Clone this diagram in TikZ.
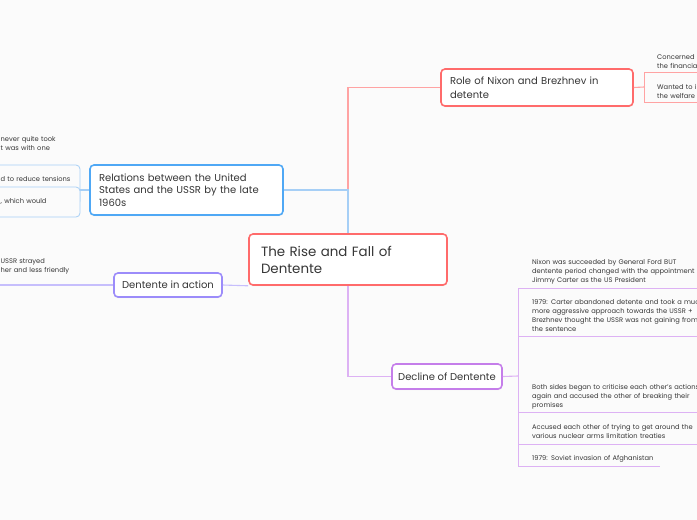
\documentclass[tikz,border=0pt]{standalone}
\usepackage{fontspec}
\setmainfont{Poppins}
\usetikzlibrary{shadows}
\begin{document}
\begin{tikzpicture}[x=1pt,y=-1pt,
  topic/.style={draw=#1,line width=1.6pt,rounded corners=4pt,fill=white,text=inkcol,
    inner ysep=0pt,drop shadow={opacity=0.12,shadow xshift=0pt,shadow yshift=-1.2pt}},
  link/.style={draw=#1,line width=1.1pt},
  leaf/.style={text=inkcol,font=\fontsize{6.7}{9}\selectfont,inner sep=0pt,anchor=base west,
    text width=200pt,align=left}]
\definecolor{bgcol}{HTML}{FBFBFB}
\definecolor{inkcol}{HTML}{363636}
\definecolor{redcol}{HTML}{FF6B6B}
\definecolor{redline}{HTML}{FFA3A3}
\definecolor{bluecol}{HTML}{4FA8F5}
\definecolor{blueline}{HTML}{A6CFF6}
\definecolor{lavcol}{HTML}{9C8CFA}
\definecolor{lavline}{HTML}{C6BEFC}
\definecolor{purcol}{HTML}{C57EEA}
\definecolor{purline}{HTML}{DDB2F4}
\fill[bgcol] (0,0) rectangle (697,520);
\clip (0,0) rectangle (697,520);
\node[topic=redcol,text width=174pt,inner xsep=12pt,minimum height=51pt,align=left,
  font=\fontsize{13.4}{17}\selectfont] (root) at (348,259.5) {The Rise and Fall of\\Dentente};
\node[topic=redcol,text width=174pt,inner xsep=9pt,minimum height=37pt,align=left,
  font=\fontsize{10}{14}\selectfont] (nixon) at (537,87.5) {Role of Nixon and Brezhnev in\\detente};
\node[topic=bluecol,text width=175pt,inner xsep=9pt,minimum height=50pt,align=left,
  font=\fontsize{10}{12.5}\selectfont] (relations) at (186.5,190) {Relations between the United\\States and the USSR by the late\\1960s};
\node[topic=lavcol,minimum width=108pt,minimum height=24pt,
  font=\fontsize{10}{12.5}\selectfont] (action) at (168,285) {Dentente in action};
\node[topic=purcol,minimum width=110pt,minimum height=25pt,
  font=\fontsize{10}{12.5}\selectfont] (decline) at (447,376.5) {Decline of Dentente};
\coordinate (nixonfork) at (644,87);
\coordinate (relfork) at (80,190);
\coordinate (actionend) at (0,285);
\coordinate (declinefork) at (518,376);
\draw[link=redline] (root.north) |- (nixon.west);
\draw[link=blueline] (root.north) |- (relations.east);
\draw[link=lavline] (root.south west) -- (action.east);
\draw[link=purline] (root.south) |- (decline.west);
\draw[link=redline] (nixon.east) -- (nixonfork);
\draw[link=blueline] (relations.west) -- (relfork);
\draw[link=lavline] (action.west) -- (actionend);
\draw[link=purline] (decline.east) -- (declinefork);
\draw[redline,line width=0.8pt] (644,72) rectangle (710,102);
\draw[blueline,line width=0.8pt,rounded corners=4pt] (-20,165) rectangle (80,205);
\draw[blueline,line width=0.8pt,rounded corners=4pt,fill=bgcol] (-20,187) rectangle (80,217);
\draw[purline,line width=0.8pt] (697,288) -- (518,288) -- (518,466) -- (660,466)
  (518,336) -- (697,336) (518,412) -- (697,412) (518,444) -- (697,444);
\node[leaf] (concerned) at (657,59) {Concerned a\\the financia};
\node[leaf] (wanted) at (657,89) {Wanted to i\\the welfare};
\node[leaf] (tookone) at (0.5,141) {never quite took\\t was with one};
\node[leaf] (tensions) at (0.5,181.5) {d to reduce tensions};
\node[leaf] (would) at (0.5,203.5) {, which would};
\node[leaf] (strayed) at (0.5,263) {USSR strayed\\her and less friendly};
\node[leaf] (ford) at (532,264.5) {Nixon was succeeded by General Ford BUT\\dentente period changed with the appointment of\\Jimmy Carter as the US President};
\node[leaf] (carter) at (532,304.5) {1979: Carter abandoned detente and took a much\\more aggressive approach towards the USSR +\\Brezhnev thought the USSR was not gaining from\\the sentence};
\node[leaf] (criticise) at (532,389.5) {Both sides began to criticise each other's actions\\again and accused the other of breaking their\\promises};
\node[leaf] (treaties) at (532,429.5) {Accused each other of trying to get around the\\various nuclear arms limitation treaties};
\node[leaf] (invasion) at (532,460.5) {1979: Soviet invasion of Afghanistan};
\end{tikzpicture}
\end{document}
